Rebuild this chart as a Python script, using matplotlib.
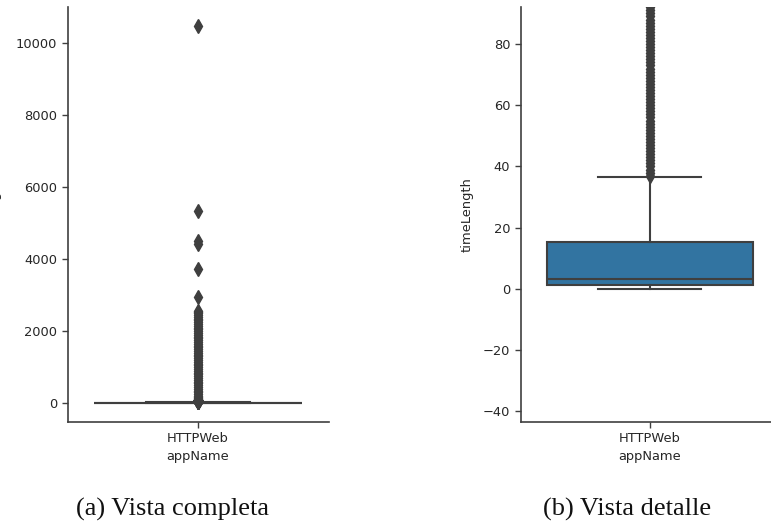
import matplotlib
matplotlib.use("Agg")
import matplotlib.pyplot as plt

# ---- data ----
app_names = ["HTTPWeb"]
q1 = 1.4
median = 3.3
q3 = 15.4
whisker_low = 0.0
whisker_high = 36.4
fliers = [37, 38, 39, 40, 41, 42, 43, 44, 45, 46, 47, 48, 49, 50, 51, 52,
          53, 54, 55, 56, 57, 58, 59, 60, 61, 62, 63, 64, 65, 66, 67, 68,
          69, 70, 71, 72, 73, 74, 75, 76, 77, 78, 79, 80, 81, 82, 83, 84,
          85, 86, 87, 88, 89, 90, 91, 92, 93, 95,
          110, 140, 170, 210, 250, 300, 350, 400, 450, 500, 550, 600, 650,
          700, 750, 800, 850, 900, 950, 1000, 1050, 1100, 1150, 1200, 1250,
          1300, 1350, 1400, 1450, 1500, 1550, 1600, 1650, 1700, 1750, 1800,
          1850, 1900, 1950, 2000, 2050, 2100, 2150, 2200, 2250, 2300, 2350,
          2400, 2450, 2500, 2540, 2570,
          2940, 3720, 4420, 4500, 5340, 10480]
detail_ylim = (-43.5, 92.1)
captions = ["(a) Vista completa", "(b) Vista detalle"]
x_label = "appName"
y_label = "timeLength"

stats = [dict(med=median, q1=q1, q3=q3, whislo=whisker_low,
              whishi=whisker_high, fliers=fliers, label=app_names[0])]

W, H = 771, 525
fig = plt.figure(figsize=(W / 100, H / 100), dpi=100)

box_color = "#3274a1"
line_color = "#3f3f3f"
text_color = "#262626"

def draw(ax, ylabel_pad):
    ax.bxp(stats, positions=[0], widths=0.8, patch_artist=True,
           boxprops=dict(facecolor=box_color, edgecolor=line_color, linewidth=1.5),
           medianprops=dict(color=line_color, linewidth=1.5),
           whiskerprops=dict(color=line_color, linewidth=1.5),
           capprops=dict(color=line_color, linewidth=1.5),
           flierprops=dict(marker="d", markersize=7, markerfacecolor=line_color,
                           markeredgecolor=line_color, linestyle="none"))
    ax.set_xlim(-0.5, 0.5)
    ax.set_xticks([0])
    ax.set_xticklabels(app_names)
    ax.set_xlabel(x_label, fontsize=9.4, color=text_color, labelpad=3)
    ax.set_ylabel(y_label, fontsize=9.4, color=text_color, labelpad=ylabel_pad)
    for s in ["top", "right"]:
        ax.spines[s].set_visible(False)
    for s in ["left", "bottom"]:
        ax.spines[s].set_color(line_color)
        ax.spines[s].set_linewidth(1.2)
    ax.tick_params(labelsize=9.4, colors=text_color, length=4, width=1.0,
                   color=line_color)

ax1 = fig.add_axes([67.5 / W, 103 / H, 261 / W, 415 / H])
draw(ax1, 10)
ax1.set_ylim(-524, 11004)

ax2 = fig.add_axes([520.7 / W, 103 / H, 258 / W, 415 / H])
draw(ax2, 7)
ax2.set_ylim(*detail_ylim)

fig.text(172.5 / W, 1 - 516 / H, captions[0], ha="center", va="baseline",
         fontsize=19, family="Liberation Serif", color="#111111")
fig.text(626.7 / W, 1 - 516 / H, captions[1], ha="center", va="baseline",
         fontsize=19, family="Liberation Serif", color="#111111")

fig.savefig("out.png", dpi=100)
